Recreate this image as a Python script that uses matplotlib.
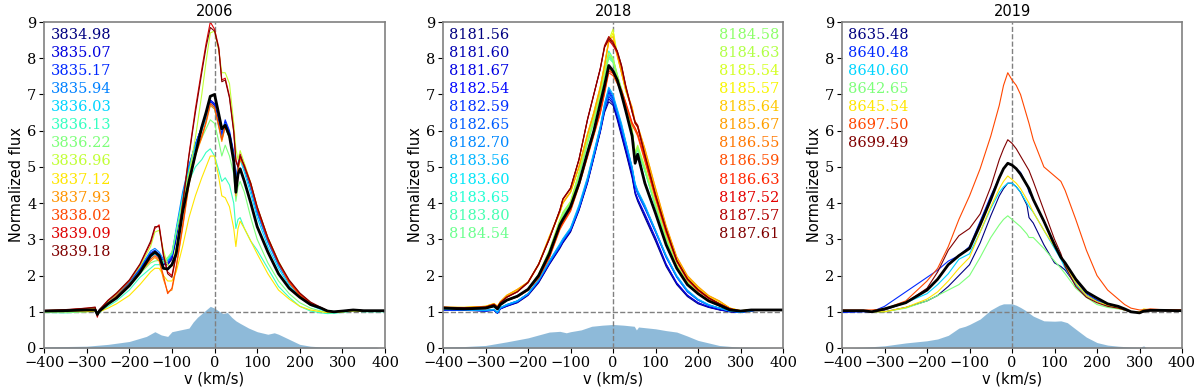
import numpy as np
import matplotlib.pyplot as plt

plt.rcParams['font.family'] = 'DejaVu Serif'
plt.rcParams['font.size'] = 10.5

########################## 2006 ##########################
v06 = [-400, -350, -300, -280, -275, -270, -250, -230, -200, -175, -150, -140, -130, -120, -110, -100,
       -90, -75, -60, -45, -30, -20, -10, 0, 10, 17, 25, 35, 45, 50, 55, 60, 70, 85, 100, 125,
       150, 175, 200, 225, 250, 265, 280, 300, 325, 350, 400]

f3834_98 = [1.02, 1.03, 1.05, 1.08, 0.95, 1.05, 1.25, 1.45, 1.8, 2.15, 2.55, 2.6, 2.5, 2.3, 2.3, 2.45,
            3.0, 4.1, 4.95, 5.6, 6.1, 6.4, 6.8, 6.7, 6.2, 5.85, 6.2, 5.9, 5.3, 4.5, 5.0, 5.25, 4.95, 4.4, 3.75, 2.95,
            2.3, 1.8, 1.45, 1.22, 1.1, 1.02, 1.0, 1.02, 1.05, 1.03, 1.03]
f3835_07 = [1.03, 1.03, 1.06, 1.08, 0.96, 1.06, 1.26, 1.46, 1.82, 2.18, 2.6, 2.65, 2.55, 2.35, 2.3, 2.5,
            3.05, 4.15, 5.0, 5.62, 6.12, 6.45, 6.85, 6.75, 6.25, 5.9, 6.25, 5.95, 5.35, 4.55, 5.05, 5.3, 5.0, 4.45, 3.8, 3.0,
            2.33, 1.82, 1.46, 1.23, 1.1, 1.02, 1.0, 1.02, 1.05, 1.03, 1.03]
f3835_17 = [1.02, 1.04, 1.05, 1.07, 0.95, 1.05, 1.26, 1.47, 1.83, 2.2, 2.63, 2.7, 2.6, 2.4, 2.35, 2.55,
            3.1, 4.2, 5.02, 5.63, 6.1, 6.42, 6.82, 6.72, 6.22, 5.88, 6.3, 6.0, 5.4, 4.6, 5.1, 5.35, 5.02, 4.45, 3.78, 2.98,
            2.32, 1.8, 1.45, 1.22, 1.1, 1.02, 1.0, 1.02, 1.05, 1.03, 1.03]
f3835_94 = [1.02, 1.03, 1.05, 1.08, 0.96, 1.06, 1.27, 1.48, 1.85, 2.22, 2.68, 2.75, 2.65, 2.45, 2.4, 2.6,
            3.3, 4.3, 5.05, 5.62, 6.08, 6.35, 6.75, 6.65, 6.15, 5.8, 6.2, 5.9, 5.3, 4.5, 5.05, 5.3, 4.98, 4.4, 3.72, 2.92,
            2.28, 1.78, 1.43, 1.2, 1.08, 1.0, 0.99, 1.02, 1.05, 1.03, 1.03]
f3836_03 = [1.0, 1.02, 1.04, 1.06, 0.94, 1.04, 1.22, 1.42, 1.78, 2.12, 2.5, 2.6, 2.52, 2.35, 2.45, 2.6,
            3.2, 4.2, 4.95, 5.55, 6.0, 6.3, 6.7, 6.6, 6.1, 5.75, 6.1, 5.8, 5.2, 4.45, 4.95, 5.2, 4.85, 4.25, 3.6, 2.8,
            2.2, 1.72, 1.4, 1.18, 1.06, 0.98, 0.97, 1.0, 1.04, 1.02, 1.02]
f3836_13 = [0.98, 0.97, 1.0, 1.02, 0.9, 0.98, 1.15, 1.3, 1.6, 1.95, 2.2, 2.3, 2.3, 2.35, 2.45, 2.6,
            3.2, 4.0, 4.6, 5.0, 5.2, 5.4, 5.5, 5.3, 4.9, 4.6, 4.7, 4.5, 4.0, 3.3, 3.55, 3.6, 3.3, 2.95, 2.7, 2.2,
            1.7, 1.4, 1.15, 1.02, 0.97, 0.95, 0.96, 0.98, 1.02, 1.0, 1.0]
f3836_22 = [1.0, 1.02, 1.04, 1.05, 0.93, 1.02, 1.2, 1.38, 1.7, 2.05, 2.35, 2.4, 2.42, 2.4, 2.5, 2.65,
            3.2, 4.1, 4.85, 5.4, 5.8, 6.05, 6.3, 6.2, 5.7, 5.3, 5.6, 5.3, 4.8, 4.05, 4.45, 4.6, 4.3, 3.6, 3.0, 2.35,
            1.85, 1.5, 1.25, 1.1, 1.02, 0.98, 0.98, 1.0, 1.04, 1.02, 1.02]
f3836_96 = [1.03, 1.05, 1.08, 1.1, 0.95, 1.06, 1.28, 1.48, 1.85, 2.25, 2.8, 3.2, 3.25, 2.7, 2.3, 2.25,
            2.8, 3.9, 4.8, 5.8, 7.0, 7.9, 8.7, 8.75, 8.2, 7.6, 7.6, 7.3, 6.2, 5.5, 5.2, 5.45, 5.1, 4.55, 3.9, 3.05,
            2.4, 1.85, 1.5, 1.25, 1.1, 1.0, 0.98, 1.0, 1.05, 1.03, 1.03]
f3837_12 = [1.0, 1.0, 1.0, 1.02, 0.92, 1.0, 1.1, 1.22, 1.45, 1.75, 2.1, 2.2, 2.2, 2.0, 1.85, 1.85,
            2.1, 2.8, 3.6, 4.2, 4.7, 5.0, 5.3, 5.3, 4.7, 4.2, 4.15, 3.9, 3.3, 2.8, 3.3, 3.5, 3.3, 2.95, 2.6, 2.05,
            1.6, 1.35, 1.15, 1.05, 1.0, 0.98, 0.98, 1.0, 1.02, 1.01, 1.01]
f3837_93 = [1.02, 1.03, 1.05, 1.07, 0.92, 1.04, 1.22, 1.42, 1.75, 2.08, 2.4, 2.5, 2.4, 1.9, 1.55, 1.6,
            2.2, 3.3, 4.5, 5.3, 5.8, 6.2, 6.7, 6.6, 6.1, 5.7, 6.1, 5.8, 5.2, 4.2, 4.9, 5.2, 5.0, 4.5, 3.85, 3.0,
            2.35, 1.8, 1.45, 1.22, 1.1, 1.02, 1.0, 1.02, 1.05, 1.03, 1.03]
f3838_02 = [1.02, 1.04, 1.06, 1.08, 0.9, 1.04, 1.23, 1.43, 1.76, 2.1, 2.45, 2.55, 2.45, 2.0, 1.5, 1.65,
            2.25, 3.35, 4.55, 5.35, 5.85, 6.25, 6.75, 6.65, 6.15, 5.75, 6.15, 5.85, 5.25, 4.3, 4.95, 5.25, 5.05, 4.55, 3.9, 3.05,
            2.38, 1.82, 1.46, 1.23, 1.1, 1.02, 1.0, 1.02, 1.05, 1.03, 1.03]
f3839_09 = [1.03, 1.05, 1.1, 1.12, 0.85, 1.05, 1.3, 1.5, 1.85, 2.3, 2.9, 3.3, 3.4, 2.6, 2.1, 2.0,
            2.6, 4.0, 5.35, 6.6, 7.7, 8.4, 9.0, 8.8, 8.3, 7.4, 7.45, 6.95, 6.0, 5.2, 5.0, 5.35, 5.0, 4.5, 3.85, 3.0,
            2.35, 1.85, 1.5, 1.25, 1.1, 1.02, 1.0, 1.02, 1.05, 1.03, 1.03]
f3839_18 = [1.04, 1.06, 1.1, 1.13, 0.88, 1.06, 1.32, 1.52, 1.88, 2.32, 2.95, 3.35, 3.35, 2.55, 2.05, 1.95,
            2.55, 3.95, 5.3, 6.5, 7.6, 8.3, 8.85, 8.75, 8.25, 7.35, 7.4, 6.9, 5.95, 5.15, 5.0, 5.3, 5.02, 4.55, 3.9, 3.05,
            2.38, 1.88, 1.52, 1.27, 1.12, 1.03, 1.0, 1.02, 1.05, 1.03, 1.03]
mean06 = [1.02, 1.03, 1.05, 1.05, 0.93, 1.02, 1.22, 1.38, 1.72, 2.08, 2.55, 2.65, 2.55, 2.2, 2.18, 2.3,
          2.6, 3.75, 4.6, 5.35, 6.1, 6.5, 6.95, 7.0, 6.45, 6.05, 6.15, 5.85, 5.15, 4.3, 4.8, 4.95, 4.6, 4.0, 3.35, 2.65,
          2.05, 1.65, 1.4, 1.2, 1.1, 1.02, 1.0, 1.02, 1.05, 1.03, 1.03]
vf06 = [-400, -300, -250, -200, -160, -140, -125, -110, -100, -80, -60, -50, -40, -30, -20, -10, 0, 10,
        20, 30, 40, 50, 60, 80, 100, 125, 140, 150, 175, 200, 225, 250, 300, 380, 385, 400]
fill06 = [0.03, 0.05, 0.1, 0.18, 0.32, 0.45, 0.36, 0.32, 0.45, 0.5, 0.55, 0.72, 0.85, 0.95, 1.05, 1.15, 1.1, 1.02,
          0.95, 0.98, 0.85, 0.75, 0.68, 0.55, 0.45, 0.38, 0.42, 0.38, 0.24, 0.1, 0.05, 0.03, 0.02, 0.02, 0.0, 0.0]
labels06 = ['3834.98', '3835.07', '3835.17', '3835.94', '3836.03', '3836.13', '3836.22',
            '3836.96', '3837.12', '3837.93', '3838.02', '3839.09', '3839.18']
spectra06 = [f3834_98, f3835_07, f3835_17, f3835_94, f3836_03, f3836_13, f3836_22,
             f3836_96, f3837_12, f3837_93, f3838_02, f3839_09, f3839_18]

########################## 2018 ##########################
v18 = [-400, -350, -300, -280, -272, -265, -250, -225, -200, -175, -150, -125, -118, -100, -80, -60, -45, -30,
       -20, -10, 0, 10, 20, 30, 45, 52, 58, 75, 100, 125, 150, 175, 200, 225, 250, 275, 300, 325, 350, 400]

f8181_56 = [1.05, 1.04, 1.02, 1.04, 0.96, 1.08, 1.15, 1.25, 1.45, 1.8, 2.3, 2.75, 2.9, 3.2, 3.8, 4.55, 5.25, 5.95,
            6.5, 6.8, 6.7, 6.3, 5.85, 5.4, 4.7, 4.25, 4.05, 3.6, 2.95, 2.25, 1.75, 1.42, 1.22, 1.12, 1.05, 1.0, 0.98, 1.03, 1.05, 1.05]
f8181_60 = [1.06, 1.05, 1.03, 1.05, 0.97, 1.09, 1.16, 1.26, 1.47, 1.82, 2.32, 2.78, 2.92, 3.22, 3.82, 4.58, 5.28, 5.98,
            6.55, 6.88, 6.75, 6.35, 5.9, 5.45, 4.75, 4.3, 4.1, 3.65, 3.0, 2.3, 1.78, 1.45, 1.25, 1.13, 1.06, 1.0, 0.98, 1.03, 1.05, 1.05]
f8181_67 = [1.05, 1.05, 1.02, 1.04, 0.96, 1.08, 1.16, 1.27, 1.48, 1.84, 2.33, 2.8, 2.95, 3.25, 3.85, 4.6, 5.3, 6.0,
            6.6, 6.95, 6.8, 6.4, 5.95, 5.5, 4.8, 4.3, 4.12, 3.7, 3.05, 2.32, 1.8, 1.46, 1.25, 1.14, 1.06, 1.01, 0.99, 1.03, 1.05, 1.05]
f8182_54 = [1.05, 1.05, 1.03, 1.05, 0.97, 1.1, 1.18, 1.28, 1.48, 1.85, 2.35, 2.8, 2.95, 3.25, 3.85, 4.6, 5.3, 6.0,
            6.6, 7.05, 6.85, 6.45, 6.05, 5.6, 4.9, 4.45, 4.25, 3.85, 3.2, 2.5, 1.95, 1.55, 1.32, 1.18, 1.1, 1.02, 0.99, 1.03, 1.05, 1.05]
f8182_59 = [1.06, 1.05, 1.03, 1.06, 0.98, 1.1, 1.19, 1.3, 1.5, 1.87, 2.37, 2.83, 2.98, 3.28, 3.88, 4.65, 5.35, 6.05,
            6.65, 7.1, 6.9, 6.5, 6.1, 5.65, 4.95, 4.5, 4.3, 3.9, 3.22, 2.52, 1.97, 1.57, 1.33, 1.18, 1.1, 1.02, 0.99, 1.03, 1.05, 1.05]
f8182_65 = [1.07, 1.06, 1.04, 1.06, 0.98, 1.11, 1.2, 1.3, 1.5, 1.88, 2.4, 2.85, 3.0, 3.3, 3.9, 4.68, 5.38, 6.1,
            6.7, 7.15, 6.95, 6.55, 6.15, 5.68, 4.98, 4.52, 4.32, 3.92, 3.25, 2.55, 1.98, 1.58, 1.34, 1.19, 1.1, 1.02, 0.99, 1.03, 1.05, 1.05]
f8182_70 = [1.06, 1.05, 1.03, 1.05, 0.97, 1.1, 1.18, 1.28, 1.49, 1.86, 2.36, 2.82, 2.97, 3.27, 3.87, 4.62, 5.32, 6.02,
            6.6, 7.0, 6.85, 6.48, 6.08, 5.62, 4.92, 4.48, 4.28, 3.88, 3.22, 2.52, 1.96, 1.56, 1.33, 1.18, 1.1, 1.02, 0.99, 1.03, 1.05, 1.05]
f8183_56 = [1.07, 1.06, 1.04, 1.07, 0.99, 1.12, 1.2, 1.3, 1.5, 1.88, 2.4, 2.88, 3.02, 3.32, 3.95, 4.72, 5.42, 6.12,
            6.75, 7.2, 7.0, 6.6, 6.2, 5.7, 5.0, 4.55, 4.35, 3.95, 3.25, 2.55, 2.0, 1.6, 1.35, 1.2, 1.1, 1.02, 0.99, 1.03, 1.05, 1.05]
f8183_60 = [1.1, 1.08, 1.1, 1.15, 1.08, 1.2, 1.32, 1.42, 1.6, 2.0, 2.65, 3.5, 3.7, 4.0, 4.8, 5.7, 6.3, 7.0,
            7.55, 8.1, 7.95, 7.5, 7.1, 6.7, 6.0, 5.3, 5.5, 4.9, 3.9, 3.0, 2.25, 1.8, 1.5, 1.3, 1.17, 1.05, 1.02, 1.05, 1.05, 1.05]
f8183_65 = [1.1, 1.09, 1.1, 1.16, 1.08, 1.21, 1.33, 1.43, 1.62, 2.02, 2.68, 3.52, 3.72, 4.02, 4.82, 5.72, 6.35, 7.05,
            7.6, 8.2, 8.0, 7.55, 7.15, 6.72, 6.02, 5.32, 5.52, 4.92, 3.92, 3.02, 2.27, 1.8, 1.5, 1.3, 1.17, 1.05, 1.02, 1.05, 1.05, 1.05]
f8183_80 = [1.09, 1.08, 1.09, 1.15, 1.07, 1.2, 1.31, 1.41, 1.6, 2.0, 2.64, 3.48, 3.68, 3.98, 4.78, 5.68, 6.28, 6.98,
            7.52, 8.05, 7.9, 7.48, 7.08, 6.68, 5.98, 5.28, 5.48, 4.88, 3.9, 3.0, 2.25, 1.8, 1.5, 1.3, 1.17, 1.05, 1.02, 1.05, 1.05, 1.05]
f8184_54 = [1.1, 1.08, 1.1, 1.15, 1.08, 1.2, 1.32, 1.42, 1.6, 2.0, 2.62, 3.45, 3.65, 3.96, 4.76, 5.65, 6.25, 6.95,
            7.5, 8.0, 7.88, 7.45, 7.05, 6.65, 5.95, 5.3, 5.5, 4.9, 3.92, 3.02, 2.27, 1.8, 1.5, 1.3, 1.17, 1.05, 1.02, 1.05, 1.05, 1.05]
f8184_58 = [1.1, 1.09, 1.1, 1.16, 1.08, 1.21, 1.32, 1.42, 1.61, 2.01, 2.66, 3.5, 3.7, 4.0, 4.8, 5.7, 6.3, 7.0,
            7.55, 8.1, 7.95, 7.5, 7.1, 6.7, 6.0, 5.35, 5.55, 4.95, 3.95, 3.05, 2.28, 1.82, 1.52, 1.31, 1.18, 1.05, 1.02, 1.05, 1.05, 1.05]
f8184_63 = [1.11, 1.09, 1.11, 1.17, 1.09, 1.22, 1.34, 1.44, 1.63, 2.04, 2.7, 3.55, 3.75, 4.05, 4.85, 5.75, 6.35, 7.05,
            7.6, 8.15, 8.0, 7.55, 7.15, 6.75, 6.05, 5.4, 5.6, 5.0, 4.0, 3.08, 2.3, 1.84, 1.53, 1.32, 1.18, 1.05, 1.02, 1.05, 1.05, 1.05]
f8185_54 = [1.12, 1.12, 1.15, 1.22, 1.15, 1.28, 1.45, 1.6, 1.8, 2.3, 3.05, 3.75, 4.0, 4.3, 5.0, 5.9, 6.5, 7.2,
            7.8, 8.5, 8.8, 8.1, 7.6, 7.1, 6.6, 6.2, 6.1, 5.4, 4.3, 3.3, 2.45, 1.95, 1.65, 1.42, 1.28, 1.1, 1.03, 1.05, 1.05, 1.05]
f8185_57 = [1.12, 1.11, 1.14, 1.22, 1.14, 1.27, 1.44, 1.6, 1.8, 2.3, 3.05, 3.75, 4.0, 4.3, 5.0, 5.9, 6.5, 7.2,
            7.8, 8.45, 8.7, 8.1, 7.6, 7.1, 6.6, 6.2, 6.1, 5.45, 4.35, 3.32, 2.46, 1.96, 1.66, 1.43, 1.28, 1.1, 1.03, 1.05, 1.05, 1.05]
f8185_64 = [1.13, 1.12, 1.15, 1.23, 1.15, 1.28, 1.46, 1.62, 1.82, 2.32, 3.08, 3.78, 4.02, 4.32, 5.02, 5.92, 6.52, 7.22,
            7.82, 8.5, 8.6, 8.1, 7.62, 7.12, 6.62, 6.22, 6.12, 5.5, 4.4, 3.35, 2.5, 1.98, 1.68, 1.44, 1.3, 1.1, 1.03, 1.05, 1.05, 1.05]
f8185_67 = [1.12, 1.12, 1.15, 1.22, 1.15, 1.28, 1.45, 1.62, 1.82, 2.32, 3.05, 3.75, 4.0, 4.3, 5.0, 5.88, 6.48, 7.18,
            7.78, 8.45, 8.5, 8.05, 7.6, 7.15, 6.65, 6.25, 6.15, 5.5, 4.42, 3.38, 2.52, 2.0, 1.7, 1.45, 1.3, 1.1, 1.03, 1.05, 1.05, 1.05]
f8186_55 = [1.1, 1.08, 1.12, 1.18, 1.1, 1.2, 1.32, 1.42, 1.6, 1.95, 2.5, 3.3, 3.45, 3.8, 4.5, 5.3, 5.9, 6.5,
            7.05, 7.7, 7.6, 7.35, 7.1, 6.75, 6.2, 6.05, 5.9, 5.2, 4.15, 3.2, 2.4, 1.9, 1.6, 1.38, 1.22, 1.08, 1.02, 1.05, 1.05, 1.05]
f8186_59 = [1.1, 1.08, 1.11, 1.17, 1.09, 1.19, 1.31, 1.41, 1.59, 1.93, 2.48, 3.27, 3.42, 3.77, 4.47, 5.27, 5.87, 6.47,
            7.02, 7.6, 7.52, 7.3, 7.05, 6.7, 6.15, 6.0, 5.85, 5.15, 4.12, 3.18, 2.38, 1.88, 1.58, 1.37, 1.21, 1.07, 1.02, 1.05, 1.05, 1.05]
f8186_63 = [1.1, 1.09, 1.12, 1.18, 1.1, 1.21, 1.33, 1.43, 1.61, 1.97, 2.52, 3.32, 3.47, 3.82, 4.52, 5.32, 5.92, 6.52,
            7.08, 7.65, 7.58, 7.38, 7.12, 6.78, 6.22, 6.08, 5.92, 5.22, 4.18, 3.22, 2.42, 1.9, 1.6, 1.38, 1.22, 1.08, 1.02, 1.05, 1.05, 1.05]
f8187_52 = [1.12, 1.1, 1.12, 1.2, 1.12, 1.25, 1.4, 1.55, 1.8, 2.3, 3.0, 3.8, 4.1, 4.4, 5.2, 6.3, 7.0, 7.7,
            8.3, 8.5, 8.35, 8.15, 7.75, 7.2, 6.5, 6.2, 6.1, 5.3, 4.2, 3.25, 2.4, 1.9, 1.6, 1.38, 1.22, 1.08, 1.02, 1.05, 1.05, 1.05]
f8187_57 = [1.12, 1.11, 1.13, 1.21, 1.13, 1.26, 1.41, 1.56, 1.82, 2.32, 3.02, 3.82, 4.12, 4.42, 5.22, 6.32, 7.02, 7.72,
            8.35, 8.6, 8.45, 8.2, 7.8, 7.25, 6.55, 6.25, 6.15, 5.35, 4.25, 3.28, 2.42, 1.92, 1.62, 1.39, 1.23, 1.08, 1.02, 1.05, 1.05, 1.05]
f8187_61 = [1.13, 1.11, 1.13, 1.2, 1.12, 1.25, 1.4, 1.55, 1.81, 2.31, 3.01, 3.81, 4.11, 4.41, 5.21, 6.31, 7.01, 7.71,
            8.3, 8.55, 8.4, 8.2, 7.8, 7.22, 6.52, 6.22, 6.12, 5.32, 4.22, 3.26, 2.41, 1.91, 1.61, 1.38, 1.22, 1.08, 1.02, 1.05, 1.05, 1.05]
mean18 = [1.1, 1.08, 1.1, 1.16, 1.08, 1.2, 1.32, 1.43, 1.62, 2.0, 2.6, 3.4, 3.55, 3.9, 4.55, 5.4, 6.0, 6.75,
          7.25, 7.8, 7.65, 7.4, 7.0, 6.55, 5.85, 5.1, 5.35, 4.55, 3.72, 2.85, 2.2, 1.75, 1.5, 1.3, 1.18, 1.05, 1.02, 1.05, 1.05, 1.05]
vf18 = [-400, -350, -300, -250, -200, -150, -125, -110, -100, -75, -50, -25, 0, 25, 50, 55, 60, 100, 125,
        150, 175, 200, 250, 300, 350, 400]
fill18 = [0.03, 0.04, 0.07, 0.17, 0.28, 0.44, 0.46, 0.42, 0.45, 0.5, 0.6, 0.63, 0.65, 0.63, 0.6, 0.5, 0.58, 0.53, 0.48,
          0.44, 0.33, 0.21, 0.07, 0.02, 0.01, 0.0]
labels18 = ['8181.56', '8181.60', '8181.67', '8182.54', '8182.59', '8182.65', '8182.70', '8183.56',
            '8183.60', '8183.65', '8183.80', '8184.54', '8184.58', '8184.63', '8185.54', '8185.57',
            '8185.64', '8185.67', '8186.55', '8186.59', '8186.63', '8187.52', '8187.57', '8187.61']
spectra18 = [f8181_56, f8181_60, f8181_67, f8182_54, f8182_59, f8182_65, f8182_70, f8183_56,
             f8183_60, f8183_65, f8183_80, f8184_54, f8184_58, f8184_63, f8185_54, f8185_57,
             f8185_64, f8185_67, f8186_55, f8186_59, f8186_63, f8187_52, f8187_57, f8187_61]

########################## 2019 ##########################
v19 = [-400, -350, -330, -300, -250, -200, -175, -150, -125, -100, -75, -50, -30, -20, -10, 0, 10, 20, 35, 40,
       50, 75, 100, 115, 125, 150, 175, 200, 225, 250, 265, 280, 300, 310, 325, 350, 400]

f8635_48 = [1.0, 1.02, 1.0, 1.0, 1.12, 1.3, 1.45, 1.7, 2.0, 2.3, 2.9, 3.65, 4.2, 4.4, 4.55, 4.55, 4.45, 4.3, 3.95, 3.6,
            3.45, 2.85, 2.35, 2.25, 2.15, 1.75, 1.45, 1.3, 1.18, 1.1, 1.05, 1.0, 0.98, 1.0, 1.03, 1.03, 1.02]
f8640_48 = [0.98, 1.0, 1.0, 1.15, 1.55, 1.95, 2.15, 2.4, 2.55, 2.8, 3.5, 4.2, 4.7, 4.95, 5.1, 5.05, 4.95, 4.85, 4.5, 4.3,
            4.1, 3.5, 2.8, 2.5, 2.3, 1.85, 1.5, 1.32, 1.2, 1.1, 1.05, 1.0, 0.97, 1.02, 1.04, 1.04, 1.03]
f8640_60 = [1.02, 1.02, 1.0, 1.05, 1.25, 1.5, 1.75, 2.05, 2.45, 2.6, 3.2, 3.85, 4.3, 4.45, 4.55, 4.55, 4.45, 4.3, 4.0, 3.9,
            3.75, 3.25, 2.75, 2.45, 2.2, 1.75, 1.45, 1.28, 1.18, 1.1, 1.05, 1.0, 0.98, 1.02, 1.04, 1.04, 1.03]
f8642_65 = [1.02, 1.02, 1.0, 1.0, 1.1, 1.3, 1.45, 1.6, 1.75, 2.0, 2.5, 3.05, 3.4, 3.55, 3.65, 3.55, 3.45, 3.35, 3.15, 3.05,
            3.05, 2.75, 2.4, 2.2, 2.05, 1.65, 1.4, 1.2, 1.12, 1.08, 1.05, 1.0, 0.98, 1.0, 1.03, 1.03, 1.02]
f8645_54 = [1.02, 1.02, 1.0, 1.0, 1.12, 1.35, 1.55, 1.85, 2.2, 2.5, 3.2, 3.9, 4.4, 4.6, 4.75, 4.65, 4.55, 4.4, 4.1, 4.0,
            3.75, 3.25, 2.8, 2.55, 2.3, 1.8, 1.45, 1.28, 1.18, 1.1, 1.05, 1.0, 1.0, 1.08, 1.05, 1.04, 1.03]
f8697_50 = [1.05, 1.05, 1.05, 1.08, 1.3, 1.85, 2.2, 2.8, 3.55, 4.2, 4.95, 5.85, 6.7, 7.25, 7.6, 7.4, 7.25, 7.0, 6.4, 6.2,
            5.75, 5.0, 4.75, 4.6, 4.35, 3.55, 2.7, 2.0, 1.6, 1.35, 1.2, 1.1, 1.05, 1.05, 1.08, 1.06, 1.06]
f8699_49 = [1.02, 1.02, 1.0, 1.05, 1.25, 1.65, 2.1, 2.7, 3.1, 3.3, 3.7, 4.45, 5.2, 5.5, 5.75, 5.65, 5.5, 5.3, 5.0, 4.9,
            4.6, 3.8, 3.0, 2.6, 2.25, 1.7, 1.4, 1.25, 1.15, 1.1, 1.05, 1.0, 0.98, 1.0, 1.03, 1.03, 1.02]
mean19 = [1.03, 1.03, 1.0, 1.08, 1.25, 1.6, 1.9, 2.3, 2.55, 2.75, 3.4, 4.1, 4.7, 4.95, 5.1, 5.05, 4.95, 4.8, 4.5, 4.4,
          4.1, 3.5, 2.85, 2.5, 2.35, 1.9, 1.55, 1.38, 1.22, 1.15, 1.08, 1.0, 0.97, 1.02, 1.04, 1.04, 1.03]
vf19 = [-400, -350, -300, -250, -200, -175, -150, -125, -110, -100, -75, -50, -30, -20, 0, 10, 20, 30, 50, 75,
        100, 115, 130, 150, 175, 200, 225, 250, 275, 300, 310, 315, 400]
fill19 = [0.0, 0.02, 0.06, 0.14, 0.2, 0.25, 0.35, 0.55, 0.6, 0.65, 0.8, 1.05, 1.18, 1.22, 1.22, 1.18, 1.12, 1.05, 0.88, 0.75,
          0.74, 0.75, 0.7, 0.52, 0.3, 0.15, 0.08, 0.05, 0.03, 0.02, 0.06, 0.0, 0.0]
labels19 = ['8635.48', '8640.48', '8640.60', '8642.65', '8645.54', '8697.50', '8699.49']
spectra19 = [f8635_48, f8640_48, f8640_60, f8642_65, f8645_54, f8697_50, f8699_49]


def panel(ax, v, spectra, labels, mean, vf, fill, title, ncol_left):
    colors = plt.cm.jet(np.linspace(0, 1, len(spectra)))
    ax.fill_between(vf, 0, fill, color='C0', alpha=0.5, lw=0)
    ax.axhline(1, color='gray', ls='--', lw=1)
    ax.axvline(0, color='gray', ls='--', lw=1)
    for s, c in zip(spectra, colors):
        ax.plot(v, s, color=c, lw=0.8)
    ax.plot(v, mean, color='k', lw=2)
    for i, (lab, c) in enumerate(zip(labels, colors)):
        if i < ncol_left:
            ax.text(-385, 8.65 - 0.5 * i, lab, color=c, ha='left', va='center')
        else:
            ax.text(392, 8.65 - 0.5 * (i - ncol_left), lab, color=c, ha='right', va='center')
    ax.set_xlim(-400, 400)
    ax.set_ylim(0, 9)
    ax.set_xticks(np.arange(-400, 401, 100))
    ax.set_yticks(np.arange(0, 10, 1))
    ax.set_title(title, family='DejaVu Sans', fontsize=10.5, pad=4)
    ax.set_xlabel("v (km/s)", family='DejaVu Sans', labelpad=1)
    ax.set_ylabel("Normalized flux", family='DejaVu Sans', labelpad=2)
    for sp in ax.spines.values():
        sp.set_color('gray')
        sp.set_linewidth(1.2)
    ax.tick_params(length=3.5, pad=2)


fig = plt.figure(figsize=(12, 3.89), dpi=100)
ax1 = fig.add_axes([0.0367, 0.1054, 0.2842, 0.838])
ax2 = fig.add_axes([0.3692, 0.1054, 0.2833, 0.838])
ax3 = fig.add_axes([0.7017, 0.1054, 0.2833, 0.838])

panel(ax1, v06, spectra06, labels06, mean06, vf06, fill06, "2006", 13)
panel(ax2, v18, spectra18, labels18, mean18, vf18, fill18, "2018", 12)
panel(ax3, v19, spectra19, labels19, mean19, vf19, fill19, "2019", 7)

plt.savefig("out.png", dpi=100)
